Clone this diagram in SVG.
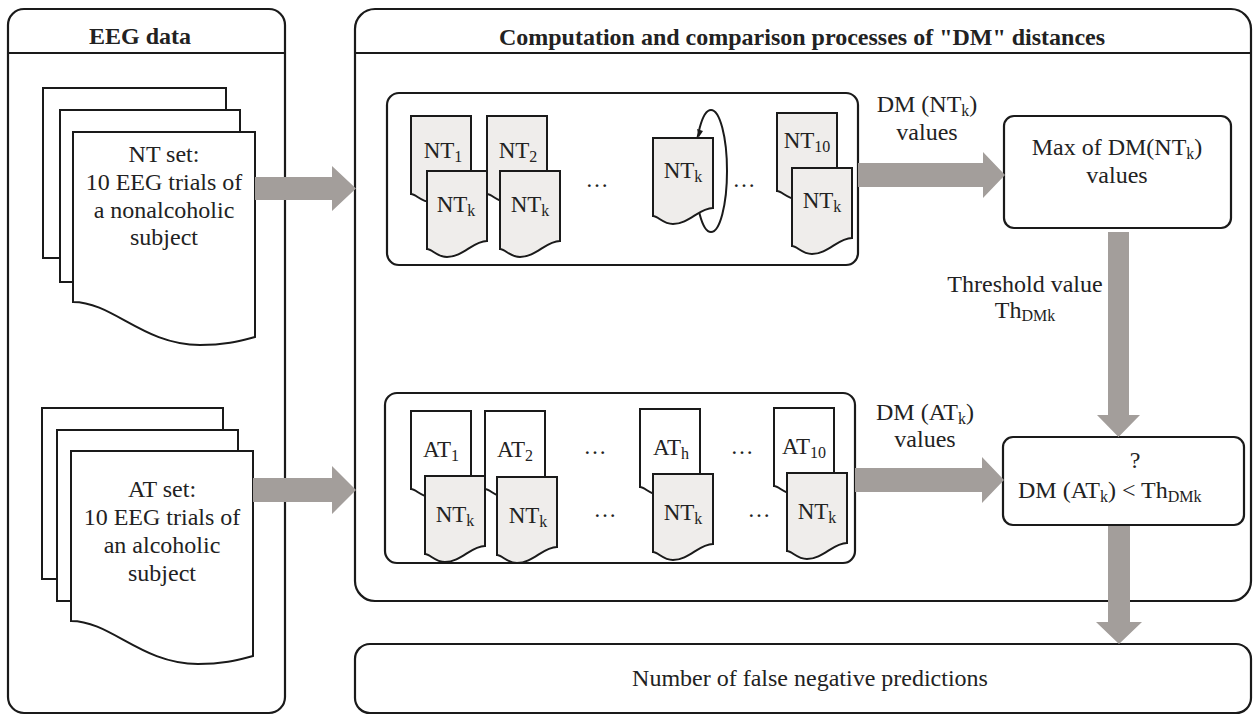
<svg xmlns="http://www.w3.org/2000/svg" xmlns:xlink="http://www.w3.org/1999/xlink" width="1254" height="715" viewBox="0 0 1254 715">
<style>
.box{fill:#fff;stroke:#1a1a1a;stroke-width:2.2}
.hdr{stroke:#1a1a1a;stroke-width:2.2}
.doc{fill:#fff;stroke:#1a1a1a;stroke-width:2}
.gdoc{fill:#efedeb;stroke:#1a1a1a;stroke-width:2}
.wdoc{fill:#fff;stroke:#1a1a1a;stroke-width:2}
.arr{fill:#a39e9b}
text{font-family:"Liberation Serif","Times New Roman",serif;fill:#222;font-size:24px}
.t{text-anchor:middle}
.b{font-weight:bold}
.lbl{font-size:23px;text-anchor:middle}
</style>
<defs>
<path id="sdoc" d="M0,0 H60 V70 C46,70 36,86 20,86 C10,86 5,78 0,78 Z"/>
<path id="bdoc" d="M0,0 H182 V205 C170,208 155,213 127,213 C70,213 40,170 0,170 Z"/>
</defs>

<g id="eeg-panel">
<rect class="box" x="8" y="9" width="277" height="704" rx="16"/>
<line class="hdr" x1="8" y1="53" x2="285" y2="53"/>
<text class="t b" x="140" y="44">EEG data</text>
</g>

<g id="nt-set">
<rect class="doc" x="43" y="88" width="183" height="170"/>
<rect class="doc" x="60" y="110" width="180" height="172"/>
<use href="#bdoc" class="doc" x="73" y="132"/>
<text class="t" x="164" y="162">NT set:</text>
<text class="t" x="164" y="190">10 EEG trials of</text>
<text class="t" x="164" y="218">a nonalcoholic</text>
<text class="t" x="164" y="245">subject</text>
</g>

<g id="at-set">
<rect class="doc" x="42" y="408" width="181" height="171"/>
<rect class="doc" x="57" y="430" width="181" height="171"/>
<use href="#bdoc" class="doc" x="71" y="451"/>
<text class="t" x="162" y="497">AT set:</text>
<text class="t" x="162" y="525">10 EEG trials of</text>
<text class="t" x="162" y="553">an alcoholic</text>
<text class="t" x="162" y="581">subject</text>
</g>

<g id="dm-panel">
<rect class="box" x="355" y="9" width="896" height="592" rx="20"/>
<line class="hdr" x1="355" y1="53" x2="1251" y2="53"/>
<text class="t b" x="802" y="45">Computation and comparison processes of "DM" distances</text>
</g>

<g id="nt-compare">
<rect class="box" x="387" y="93" width="471" height="172" rx="12"/>
<use href="#sdoc" class="gdoc" x="411" y="116"/>
<text class="lbl" x="443" y="158">NT<tspan font-size="16" dy="4">1</tspan></text>
<use href="#sdoc" class="gdoc" x="427" y="171"/>
<text class="lbl" x="456" y="212">NT<tspan font-size="16" dy="4">k</tspan></text>
<use href="#sdoc" class="gdoc" x="487" y="116"/>
<text class="lbl" x="518" y="158">NT<tspan font-size="16" dy="4">2</tspan></text>
<use href="#sdoc" class="gdoc" x="500" y="171"/>
<text class="lbl" x="530" y="212">NT<tspan font-size="16" dy="4">k</tspan></text>
<text class="lbl" x="597" y="187">…</text>
<ellipse cx="711" cy="171" rx="16" ry="61" fill="none" stroke="#1a1a1a" stroke-width="2"/>
<use href="#sdoc" class="gdoc" x="653" y="138"/>
<path d="M697,129 L703,131 L699,137 Z" fill="#1a1a1a"/>
<text class="lbl" x="683" y="178">NT<tspan font-size="16" dy="4">k</tspan></text>
<text class="lbl" x="744" y="187">…</text>
<use href="#sdoc" class="gdoc" x="777" y="113"/>
<text class="lbl" x="807" y="148">NT<tspan font-size="16" dy="4">10</tspan></text>
<use href="#sdoc" class="gdoc" x="792" y="168"/>
<text class="lbl" x="822" y="208">NT<tspan font-size="16" dy="4">k</tspan></text>
</g>

<g id="at-compare">
<rect class="box" x="385" y="393" width="470" height="170" rx="12"/>
<use href="#sdoc" class="wdoc" x="411" y="411"/>
<text class="lbl" x="441" y="457">AT<tspan font-size="16" dy="4">1</tspan></text>
<use href="#sdoc" class="gdoc" x="425" y="476"/>
<text class="lbl" x="455" y="522">NT<tspan font-size="16" dy="4">k</tspan></text>
<use href="#sdoc" class="wdoc" x="485" y="411"/>
<text class="lbl" x="515" y="457">AT<tspan font-size="16" dy="4">2</tspan></text>
<use href="#sdoc" class="gdoc" x="497" y="477"/>
<text class="lbl" x="528" y="523">NT<tspan font-size="16" dy="4">k</tspan></text>
<text class="lbl" x="595" y="454">…</text>
<text class="lbl" x="605" y="517">…</text>
<use href="#sdoc" class="wdoc" x="640" y="409"/>
<text class="lbl" x="671" y="455">AT<tspan font-size="16" dy="4">h</tspan></text>
<use href="#sdoc" class="gdoc" x="653" y="474"/>
<text class="lbl" x="683" y="520">NT<tspan font-size="16" dy="4">k</tspan></text>
<text class="lbl" x="742" y="454">…</text>
<text class="lbl" x="759" y="517">…</text>
<use href="#sdoc" class="wdoc" x="774" y="408"/>
<text class="lbl" x="804" y="454">AT<tspan font-size="16" dy="4">10</tspan></text>
<use href="#sdoc" class="gdoc" x="787" y="473"/>
<text class="lbl" x="817" y="519">NT<tspan font-size="16" dy="4">k</tspan></text>
</g>

<g id="max-box">
<rect class="box" x="1004" y="116" width="227" height="112" rx="10"/>
<text class="t" x="1117" y="155">Max of DM(NT<tspan font-size="16" dy="4">k</tspan><tspan dy="-4">)</tspan></text>
<text class="t" x="1117" y="183">values</text>
</g>

<g id="compare-box">
<rect class="box" x="1003" y="437" width="241" height="88" rx="10"/>
<text class="t" x="1135" y="468">?</text>
<text x="1018" y="498">DM (AT<tspan font-size="16" dy="4">k</tspan><tspan dy="-4">) &lt; Th</tspan><tspan font-size="16" dy="4">DMk</tspan></text>
</g>

<g id="result-box">
<rect class="box" x="355" y="644" width="896" height="69" rx="15"/>
<text class="t" x="810" y="686">Number of false negative predictions</text>
</g>

<g id="connectors">
<polygon class="arr" points="255,177 332,177 332,166 356,188.5 332,211 332,200 255,200"/>
<polygon class="arr" points="253,478 332,478 332,466 356,490 332,514 332,502 253,502"/>
<polygon class="arr" points="858,163 983,163 983,152 1005,175 983,198 983,187 858,187"/>
<polygon class="arr" points="855,468 982,468 982,457 1004,480 982,503 982,492 855,492"/>
<polygon class="arr" points="1108,232 1129,232 1129,415 1140,415 1118.5,437 1097,415 1108,415"/>
<polygon class="arr" points="1108,526 1130,526 1130,622 1142,622 1119,644 1096,622 1108,622"/>
<text class="t" x="927" y="112">DM (NT<tspan font-size="16" dy="4">k</tspan><tspan dy="-4">)</tspan></text>
<text class="t" x="927" y="140">values</text>
<text class="t" x="1025" y="292">Threshold value</text>
<text class="t" x="1025" y="318">Th<tspan font-size="16" dy="3">DMk</tspan></text>
<text class="t" x="925" y="420">DM (AT<tspan font-size="16" dy="4">k</tspan><tspan dy="-4">)</tspan></text>
<text class="t" x="925" y="447">values</text>
</g>
</svg>
